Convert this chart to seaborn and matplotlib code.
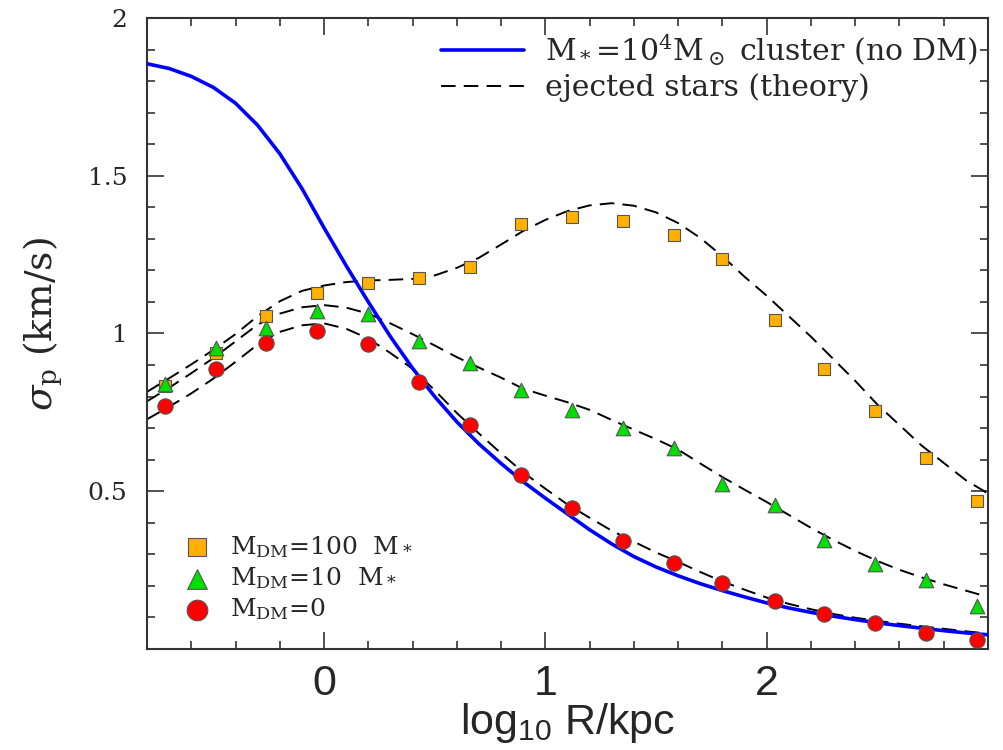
import matplotlib
matplotlib.use("Agg")
import matplotlib.pyplot as plt
from matplotlib.ticker import MultipleLocator, FixedLocator
import seaborn as sns

# ---------------- data ----------------
R_log = [-0.72, -0.49, -0.26, -0.03, 0.20, 0.43, 0.66, 0.89, 1.12,
         1.35, 1.58, 1.80, 2.04, 2.26, 2.49, 2.72, 2.95]
sig_dm100 = [0.833, 0.938, 1.055, 1.129, 1.159, 1.176, 1.211, 1.347, 1.370,
             1.357, 1.312, 1.236, 1.044, 0.887, 0.754, 0.605, 0.469]
sig_dm10 = [0.840, 0.955, 1.018, 1.072, 1.061, 0.977, 0.905, 0.822, 0.759,
            0.699, 0.638, 0.524, 0.455, 0.347, 0.268, 0.220, 0.135]
sig_dm0 = [0.770, 0.886, 0.970, 1.007, 0.968, 0.847, 0.709, 0.553, 0.447,
           0.342, 0.273, 0.208, 0.152, 0.110, 0.081, 0.052, 0.027]

# curves read at log R = -0.8, -0.7, ..., 3.0
curve_x = [-0.8, -0.7, -0.6, -0.5, -0.4, -0.3, -0.2, -0.1, 0.0, 0.1,
           0.2, 0.3, 0.4, 0.5, 0.6, 0.7, 0.8, 0.9, 1.0, 1.1,
           1.2, 1.3, 1.4, 1.5, 1.6, 1.7, 1.8, 1.9, 2.0, 2.1,
           2.2, 2.3, 2.4, 2.5, 2.6, 2.7, 2.8, 2.9, 3.0]
cluster_y = [1.855, 1.840, 1.815, 1.780, 1.730, 1.660, 1.570, 1.460, 1.335, 1.215,
             1.100, 0.990, 0.890, 0.800, 0.720, 0.650, 0.588, 0.530, 0.478, 0.428,
             0.378, 0.333, 0.293, 0.260, 0.232, 0.207, 0.185, 0.165, 0.146, 0.130,
             0.116, 0.104, 0.093, 0.083, 0.074, 0.066, 0.058, 0.051, 0.045]
theo100_y = [0.815, 0.858, 0.902, 0.948, 0.998, 1.055, 1.102, 1.135, 1.152, 1.163,
             1.168, 1.170, 1.173, 1.184, 1.208, 1.240, 1.282, 1.325, 1.360, 1.388,
             1.406, 1.413, 1.405, 1.384, 1.350, 1.303, 1.245, 1.180, 1.120, 1.055,
             0.990, 0.920, 0.850, 0.775, 0.710, 0.645, 0.590, 0.535, 0.493]
theo10_y = [0.785, 0.828, 0.874, 0.922, 0.975, 1.028, 1.063, 1.083, 1.090, 1.082,
            1.063, 1.032, 0.998, 0.962, 0.925, 0.892, 0.860, 0.825, 0.803, 0.782,
            0.758, 0.726, 0.695, 0.665, 0.632, 0.588, 0.545, 0.505, 0.466, 0.425,
            0.384, 0.346, 0.311, 0.279, 0.251, 0.227, 0.205, 0.185, 0.165]
theo0_y = [0.728, 0.768, 0.810, 0.857, 0.910, 0.965, 1.005, 1.026, 1.032, 1.015,
           0.984, 0.938, 0.888, 0.820, 0.748, 0.683, 0.620, 0.560, 0.508, 0.458,
           0.416, 0.375, 0.340, 0.306, 0.276, 0.244, 0.214, 0.188, 0.163, 0.143,
           0.126, 0.111, 0.099, 0.089, 0.080, 0.072, 0.064, 0.056, 0.049]

x_ticks = [0, 1, 2]
x_ticklabels = ["0", "1", "2"]
y_ticks = [0.5, 1.0, 1.5, 2.0]
y_ticklabels = ["0.5", "1", "1.5", "2"]

lab_cluster = r"M$_*$=10$^4$M$_\odot$ cluster (no DM)"
lab_theory = "ejected stars (theory)"
lab_100 = r"M$_{\rm DM}$=100  M$_*$"
lab_10 = r"M$_{\rm DM}$=10  M$_*$"
lab_0 = r"M$_{\rm DM}$=0"

# ---------------- style ----------------
sns.set_style("ticks")
plt.rcParams["font.family"] = ["DejaVu Serif"]
plt.rcParams["mathtext.fontset"] = "dejavuserif"

fig = plt.figure(figsize=(10.04, 7.5), dpi=100)
ax = fig.add_axes([0.1464, 0.1347, 0.8376, 0.8413])

dash = (0, (7.5, 4.2))
for ty in [theo100_y, theo10_y, theo0_y]:
    sns.lineplot(x=curve_x, y=ty, color="black", linewidth=1.4, linestyle=dash,
                 sort=False, estimator=None, ax=ax, zorder=2)
theory_line = ax.lines[-1]

sns.lineplot(x=curve_x, y=cluster_y, color="#0000ff", linewidth=2.6,
             sort=False, estimator=None, ax=ax, zorder=3)
cluster_line = ax.lines[-1]

sns.scatterplot(x=R_log, y=sig_dm100, marker="s", s=9.2**2, color="#FFB000",
                edgecolor="#555555", linewidth=0.8, zorder=5, ax=ax)
h100 = ax.collections[-1]
sns.scatterplot(x=R_log, y=sig_dm10, marker="^", s=10.5**2, color="#00E000",
                edgecolor="#555555", linewidth=0.8, zorder=5, ax=ax)
h10 = ax.collections[-1]
sns.scatterplot(x=R_log, y=sig_dm0, marker="o", s=11**2, color="#FF0000",
                edgecolor="#555555", linewidth=0.8, zorder=6, ax=ax)
h0 = ax.collections[-1]

ax.set_xlim(-0.8, 3.0)
ax.set_ylim(0, 2)

ax.xaxis.set_major_locator(FixedLocator(x_ticks))
ax.set_xticklabels(x_ticklabels, fontfamily="Liberation Sans", fontsize=31)
ax.xaxis.set_minor_locator(MultipleLocator(0.2))
ax.yaxis.set_major_locator(FixedLocator(y_ticks))
ax.set_yticklabels(y_ticklabels, fontfamily="DejaVu Serif", fontsize=18)
ax.yaxis.set_minor_locator(MultipleLocator(0.1))

ax.tick_params(which="both", direction="in", top=True, right=True, color="#333333")
ax.tick_params(which="major", length=12, width=1.2)
ax.tick_params(which="minor", length=6, width=1.2)
ax.tick_params(axis="x", which="major", pad=11)
ax.tick_params(axis="y", which="major", pad=14)

for sp in ax.spines.values():
    sp.set_visible(True)
    sp.set_color("#333333")
    sp.set_linewidth(1.5)

ax.set_xlabel(r"log$_\mathregular{10}$ R/kpc", fontfamily="Liberation Sans",
              fontsize=31)
ax.xaxis.set_label_coords(0.5, -0.083)
ax.set_ylabel(r"$\sigma_{\rm p}$ (km/s)", fontfamily="DejaVu Serif", fontsize=27)
ax.yaxis.set_label_coords(-0.097, 0.515)

leg1 = ax.legend([cluster_line, theory_line], [lab_cluster, lab_theory],
                 loc="upper right", bbox_to_anchor=(0.988, 0.977), frameon=False,
                 prop={"family": "DejaVu Serif", "size": 21.5}, handlelength=2.8,
                 handletextpad=0.7, labelspacing=0.2, borderpad=0, borderaxespad=0)
ax.add_artist(leg1)
ax.legend([h100, h10, h0], [lab_100, lab_10, lab_0], loc="lower left",
          bbox_to_anchor=(0.045, 0.042), frameon=False,
          prop={"family": "DejaVu Serif", "size": 18}, handlelength=1.0,
          handletextpad=0.8, labelspacing=0.22, borderpad=0, borderaxespad=0,
          scatterpoints=1, markerscale=1.35)

fig.savefig("out.png", dpi=100)
